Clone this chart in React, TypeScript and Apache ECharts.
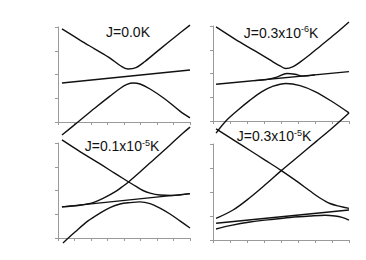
import React, { useEffect, useRef } from "react";
import * as echarts from "echarts";

// Panel titles
const titles = ["J=0.0K", "J=0.3x10|-6|K", "J=0.1x10|-5|K", "J=0.3x10|-5|K"];

// Axis ticks: x 0..8, y 0..4 (unlabelled)
const xTicks = [0, 1, 2, 3, 4, 5, 6, 7, 8];
const yTicks = [0, 1, 2, 3, 4];

// Panel 1 (J = 0)
const p1Upper = [[0.24, 3.92], [1.33, 3.45], [2.24, 3.07], [3.15, 2.69], [3.76, 2.38], [4.24, 2.23], [4.73, 2.29], [5.27, 2.55], [6.18, 3.07], [7.09, 3.58], [8.0, 4.08]];
const p1Middle = [[0.24, 1.64], [8.0, 2.19]];
const p1Lower = [[0.24, -0.55], [1.21, 0.0], [2.24, 0.59], [3.15, 1.09], [3.76, 1.41], [4.18, 1.58], [4.55, 1.64], [4.97, 1.6], [5.58, 1.39], [6.48, 0.97], [7.39, 0.46], [8.0, 0.17]];

// Panel 2 (J = 0.3e-6 K)
const p2Upper = [[0.18, 3.96], [1.29, 3.45], [2.47, 2.95], [3.35, 2.57], [3.94, 2.32], [4.29, 2.21], [4.71, 2.29], [5.12, 2.48], [5.71, 2.8], [6.29, 3.14], [7.18, 3.66], [8.0, 4.17]];
const p2Middle = [[0.18, 1.55], [8.0, 2.08]];
const p2Hump = [[2.47, 1.7], [3.12, 1.74], [3.76, 1.85], [4.35, 2.0], [4.82, 1.97], [5.29, 1.89], [6.0, 1.94]];
const p2Lower = [[0.18, -0.51], [0.76, 0.0], [1.47, 0.46], [2.18, 0.88], [2.88, 1.24], [3.47, 1.45], [4.29, 1.58], [5.12, 1.49], [6.0, 1.24], [7.0, 0.82], [8.0, 0.34]];

// Panel 3 (J = 0.1e-5 K)
const p3Falling = [[0.24, 4.13], [1.33, 3.64], [2.55, 3.12], [3.45, 2.72], [4.24, 2.38], [4.73, 2.17], [5.15, 2.0], [5.58, 1.89], [6.18, 1.81], [6.91, 1.79], [8.0, 1.87]];
const p3Rising = [[0.24, 1.31], [1.33, 1.38], [2.12, 1.49], [2.85, 1.71], [3.45, 1.94], [3.88, 2.15], [4.24, 2.34], [4.97, 2.78], [5.88, 3.35], [6.79, 3.92], [7.58, 4.42], [8.0, 4.67]];
const p3Middle = [[0.24, 1.31], [8.0, 1.87]];
const p3Lower = [[0.3, -0.21], [1.03, 0.25], [1.82, 0.72], [2.55, 1.05], [3.15, 1.28], [3.76, 1.43], [4.36, 1.49], [4.97, 1.52], [5.58, 1.45], [6.18, 1.26], [6.79, 1.01], [7.39, 0.72], [8.0, 0.42]];

// Panel 4 (J = 0.3e-5 K)
const p4Falling = [[0.18, 4.63], [1.29, 4.13], [2.18, 3.73], [3.06, 3.33], [4.0, 2.9], [4.94, 2.44], [5.71, 2.04], [6.29, 1.75], [6.88, 1.52], [7.47, 1.4], [8.0, 1.32]];
const p4Rising = [[0.18, 0.9], [1.18, 1.25], [2.18, 1.77], [3.12, 2.33], [4.0, 2.88], [5.12, 3.54], [6.06, 4.1], [6.88, 4.58], [8.0, 5.29]];
const p4Middle = [[0.18, 0.7], [8.0, 1.25]];
const p4Lower = [[0.18, 0.46], [1.0, 0.6], [2.18, 0.75], [3.35, 0.85], [4.53, 0.94], [5.71, 1.0], [6.59, 1.03], [7.18, 1.0], [7.59, 0.94], [8.0, 0.83]];

const panelCurves = [
  [p1Upper, p1Middle, p1Lower],
  [p2Upper, p2Middle, p2Hump, p2Lower],
  [p3Falling, p3Rising, p3Middle, p3Lower],
  [p4Falling, p4Rising, p4Middle, p4Lower],
];

const grids = [
  { left: 58, top: 27, width: 132, height: 95 },
  { left: 213, top: 26, width: 136, height: 95 },
  { left: 58, top: 143, width: 132, height: 95 },
  { left: 213, top: 144, width: 136, height: 96 },
];

const titlePos = [
  [128, 32],
  [281, 32.5],
  [122, 146],
  [274, 136],
];

export default function App() {
  const ref = useRef<HTMLDivElement>(null);
  useEffect(() => {
    if (!ref.current) return;
    const chart = echarts.init(ref.current, undefined, { renderer: "svg" });
    const axisColor = "#9a9a9a";
    const xAxis = grids.map((_, i) => ({
      type: "value",
      gridIndex: i,
      min: xTicks[0],
      max: xTicks[xTicks.length - 1],
      interval: 1,
      axisLine: { show: true, onZero: false, lineStyle: { color: axisColor, width: 1 } },
      axisTick: { show: true, length: 3, lineStyle: { color: axisColor } },
      axisLabel: { show: false },
      splitLine: { show: false },
    }));
    const yAxis = grids.map((_, i) => ({
      type: "value",
      gridIndex: i,
      min: yTicks[0],
      max: yTicks[yTicks.length - 1],
      interval: 1,
      axisLine: { show: true, onZero: false, lineStyle: { color: axisColor, width: 1 } },
      axisTick: { show: true, length: 3, lineStyle: { color: axisColor } },
      axisLabel: { show: false },
      splitLine: { show: false },
    }));
    const series: any[] = [];
    panelCurves.forEach((curves, i) => {
      curves.forEach((d) => {
        series.push({
          type: "line",
          xAxisIndex: i,
          yAxisIndex: i,
          data: d,
          smooth: 0.35,
          showSymbol: false,
          symbol: "none",
          clip: false,
          lineStyle: { color: "#111", width: 1.4 },
          silent: true,
        });
      });
    });
    const graphic = titles.map((t, i) => {
      const parts = t.split("|");
      const text = parts.length === 1 ? `{a|${parts[0]}}` : `{a|${parts[0]}}{s|${parts[1]}}{a|${parts[2]}}`;
      return {
        type: "text",
        x: titlePos[i][0],
        y: titlePos[i][1],
        z: 10,
        style: {
          text,
          align: "center",
          verticalAlign: "middle",
          fill: "#111",
          rich: {
            a: { fontSize: 14, fontFamily: "Liberation Sans, Arial, sans-serif", fill: "#111", lineHeight: 16 },
            s: { fontSize: 9, fontFamily: "Liberation Sans, Arial, sans-serif", fill: "#111", verticalAlign: "top", lineHeight: 16 },
          },
        },
      };
    });
    chart.setOption({
      animation: false,
      backgroundColor: "#fff",
      grid: grids.map((g) => ({ ...g, containLabel: false })),
      xAxis,
      yAxis,
      series,
      graphic,
    });
    return () => chart.dispose();
  }, []);
  return (
    <div
      ref={ref}
      style={{ position: "fixed", left: 0, top: 0, width: 366, height: 260, background: "#fff" }}
    />
  );
}
